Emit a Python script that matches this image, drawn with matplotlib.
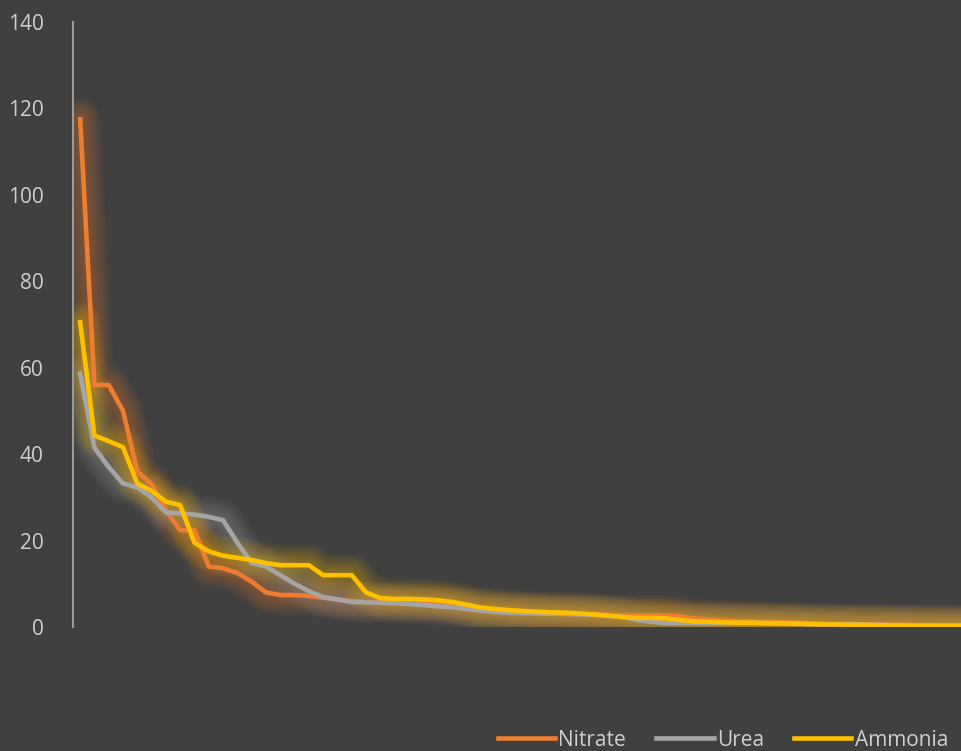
import matplotlib.pyplot as plt

# data (sorted, descending)
nitrate = [117.5, 56, 56, 50, 36, 33, 27, 22.4, 22.4, 14, 13.6, 12.5, 10.5, 8, 7.4, 7.4,
           7.2, 6.8, 6.3, 6.0, 5.8, 5.8, 5.8, 5.7, 5.6, 5.4, 5.0, 4.5, 4.0, 3.8, 3.6, 3.4,
           3.3, 3.2, 3.1, 3.0, 2.9, 2.8, 2.7, 2.7, 2.7, 2.7, 2.4, 2.0, 1.7, 1.5, 1.4, 1.3,
           1.2, 1.1, 1.0, 0.9, 0.8, 0.7, 0.7, 0.6, 0.6, 0.5, 0.5, 0.4, 0.4, 0.3, 0.3]
urea = [58.6, 41.5, 37, 33.2, 32.3, 30, 26.5, 26.3, 26, 25.5, 24.7, 19.5, 14.8, 14, 12, 10,
        8.3, 6.9, 6.4, 5.8, 5.7, 5.6, 5.5, 5.3, 5.1, 4.8, 4.6, 4.2, 3.8, 3.5, 3.3, 3.2,
        3.1, 3.1, 3.0, 2.9, 2.8, 2.6, 2.3, 1.6, 1.2, 0.9, 0.9, 0.9, 0.9, 0.9, 0.9, 0.9,
        0.9, 0.8, 0.8, 0.7, 0.7, 0.6, 0.6, 0.5, 0.5, 0.4, 0.4, 0.4, 0.3, 0.3, 0.3]
ammonia = [70.5, 44.3, 43, 41.6, 33.2, 31.5, 29, 28.2, 19.5, 17.5, 16.5, 16, 15.5, 14.8, 14.3, 14.3,
           14.3, 12, 12, 12, 8, 6.7, 6.5, 6.5, 6.4, 6.2, 5.8, 5.2, 4.5, 4.2, 3.9, 3.7,
           3.5, 3.4, 3.3, 3.1, 2.9, 2.6, 2.3, 2.1, 2.1, 2.0, 1.6, 1.3, 1.2, 1.1, 1.0, 1.0,
           0.9, 0.9, 0.8, 0.7, 0.6, 0.6, 0.5, 0.5, 0.4, 0.4, 0.3, 0.3, 0.3, 0.3, 0.3]
labels = ['Nitrate', 'Urea', 'Ammonia']
colors = ['#ED7D31', '#A5A5A5', '#FFC000']
yticks = [0, 20, 40, 60, 80, 100, 120, 140]

bg = '#404040'
plt.rcParams['font.family'] = ['Open Sans', 'DejaVu Sans']

fig = plt.figure(figsize=(9.62, 7.51), dpi=100, facecolor=bg)
# axes runs off the right edge, like the cropped original
ax = fig.add_axes([73 / 962, 124 / 751, 1 - 73 / 962, 605 / 751], facecolor=bg)

x = list(range(len(nitrate)))
series = [nitrate, urea, ammonia]

# soft glow behind the lines
for s, c in zip(series, colors):
    for k in range(1, 12):
        ax.plot(x, s, color=c, lw=3.2 + 2.4 * k, alpha=0.04,
                solid_joinstyle='round', solid_capstyle='round', zorder=1)

for s, c, lab in zip(series, colors, labels):
    ax.plot(x, s, color=c, lw=3.3, label=lab, solid_joinstyle='round', zorder=3)

ax.set_xlim(-0.5, 61.7)
ax.set_ylim(0, 140)
ax.set_yticks(yticks)
ax.set_xticks([])
ax.tick_params(axis='y', length=0, pad=21, labelsize=15, labelcolor='#CFCFCF')
for side in ['top', 'right', 'bottom']:
    ax.spines[side].set_visible(False)
ax.spines['left'].set_color('#9A9A9A')
ax.spines['left'].set_linewidth(1.5)

leg = fig.legend(loc='center left', bbox_to_anchor=(498 / 962, 11 / 751), ncol=3,
                 frameon=False, fontsize=15, handlelength=2.75, handletextpad=0.15,
                 columnspacing=1.45, borderpad=0, borderaxespad=0)
for t in leg.get_texts():
    t.set_color('#CFCFCF')

plt.savefig('out.png', dpi=100, facecolor=bg)
